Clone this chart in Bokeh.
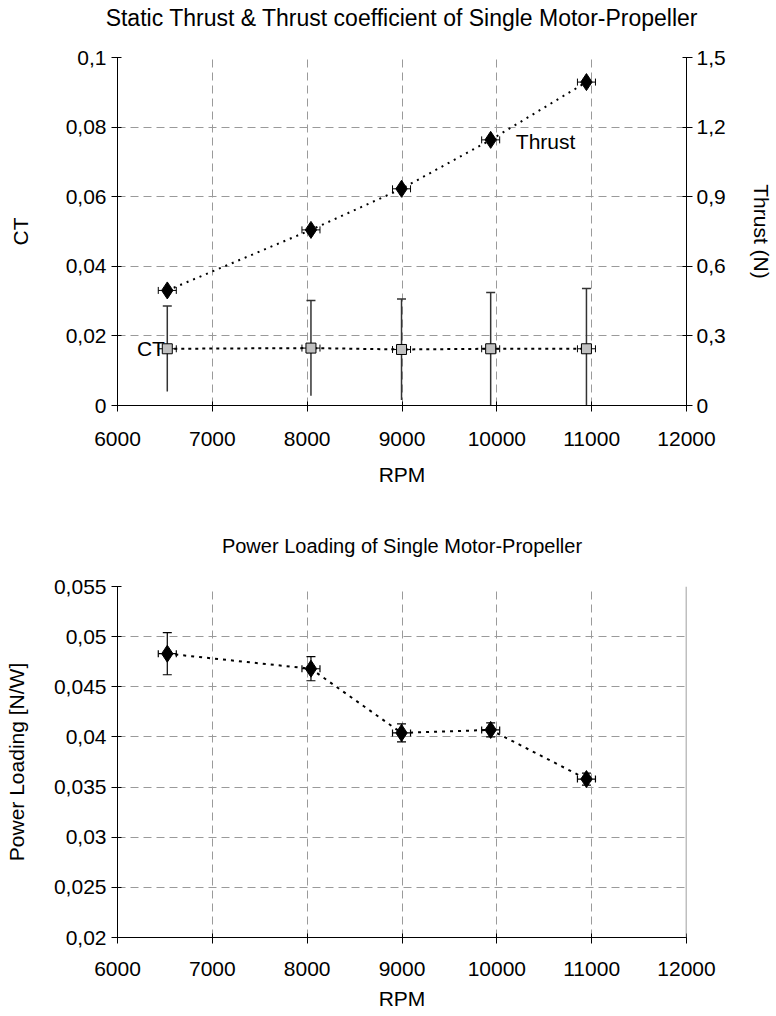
from bokeh.plotting import figure
from bokeh.layouts import column
from bokeh.models import (ColumnDataSource, Range1d, LinearAxis, FixedTicker,
                          CustomJSTickFormatter, Whisker, TeeHead, Label, Span)
from bokeh.embed import file_html
from bokeh.resources import INLINE

# ---------------- data ----------------
rpm = [6525, 8040, 8995, 9935, 10945]
rpm_err = [95, 95, 95, 95, 95]
thrust = [0.496, 0.757, 0.934, 1.145, 1.394]
ct = [0.0163, 0.0165, 0.0161, 0.0163, 0.0163]
ct_err = [0.0123, 0.0137, 0.0145, 0.0162, 0.0173]
power_loading = [0.0483, 0.0468, 0.0404, 0.0407, 0.0358]
pl_err = [0.0021, 0.0012, 0.0009, 0.0007, 0.0006]

x_ticks = [6000, 7000, 8000, 9000, 10000, 11000, 12000]
ct_ticks = [0, 0.02, 0.04, 0.06, 0.08, 0.1]
thrust_ticks = [0, 0.3, 0.6, 0.9, 1.2, 1.5]
pl_ticks = [0.02, 0.025, 0.03, 0.035, 0.04, 0.045, 0.05, 0.055]

title1 = "Static Thrust & Thrust coefficient of Single Motor-Propeller"
title2 = "Power Loading of Single Motor-Propeller"

FONT = "Liberation Sans"
FS = "21px"
comma_fmt = CustomJSTickFormatter(code="return tick.toString().replace('.', ',');")

src = ColumnDataSource(dict(
    rpm=rpm,
    lo_x=[r - e for r, e in zip(rpm, rpm_err)],
    hi_x=[r + e for r, e in zip(rpm, rpm_err)],
    thrust=thrust,
    ct=ct,
    ct_lo=[max(c - e, 0) for c, e in zip(ct, ct_err)],
    ct_hi=[c + e for c, e in zip(ct, ct_err)],
    pl=power_loading,
    pl_lo=[p - e for p, e in zip(power_loading, pl_err)],
    pl_hi=[p + e for p, e in zip(power_loading, pl_err)],
))


def style_axis(ax, fmt=True):
    ax.axis_line_color = "black"
    ax.major_tick_line_color = "black"
    ax.minor_tick_line_color = None
    ax.major_tick_in = 4
    ax.major_tick_out = 6
    ax.major_label_text_font = FONT
    ax.major_label_text_font_size = FS
    ax.major_label_text_color = "black"
    ax.axis_label_text_font = FONT
    ax.axis_label_text_font_size = FS
    ax.axis_label_text_font_style = "normal"
    ax.axis_label_text_color = "black"
    if fmt:
        ax.formatter = comma_fmt


def style_fig(p):
    p.outline_line_color = None
    for g in (p.xgrid, p.ygrid):
        g.grid_line_color = "#9a9a9a"
        g.grid_line_dash = "8 5"
        g.grid_line_width = 1
    p.background_fill_color = "white"
    p.border_fill_color = "white"


def add_title(p, text, standoff, size):
    ax = LinearAxis(ticker=FixedTicker(ticks=[]), axis_label=text)
    ax.axis_line_color = None
    ax.major_tick_line_color = None
    ax.minor_tick_line_color = None
    ax.major_tick_in = 0
    ax.major_tick_out = 0
    ax.major_label_standoff = 0
    ax.axis_label_standoff = standoff
    ax.axis_label_text_font = FONT
    ax.axis_label_text_font_size = size
    ax.axis_label_text_font_style = "normal"
    ax.axis_label_text_color = "black"
    p.add_layout(ax, "above")


# ---------------- top chart ----------------
p1 = figure(frame_width=569, frame_height=348, x_range=Range1d(6000, 12000),
            y_range=Range1d(0, 0.1), toolbar_location=None, output_backend="svg",
            min_border_left=117, min_border_right=88,
            min_border_top=57, min_border_bottom=88)
style_fig(p1)
p1.extra_y_ranges = {"thrust": Range1d(0, 1.5)}
xb1 = p1.below[0]
yl1 = p1.left[0]
xb1.ticker = FixedTicker(ticks=x_ticks)
p1.xgrid.ticker = FixedTicker(ticks=x_ticks)
yl1.ticker = FixedTicker(ticks=ct_ticks)
p1.ygrid.ticker = FixedTicker(ticks=ct_ticks)
yl1.axis_label = "CT"
xb1.axis_label = "RPM"
style_axis(yl1)
style_axis(xb1, fmt=False)
yl1.major_label_standoff = 5
yl1.axis_label_standoff = 31
xb1.major_label_standoff = 20
xb1.axis_label_standoff = 14

rax = LinearAxis(y_range_name="thrust", ticker=FixedTicker(ticks=thrust_ticks),
                 axis_label="Thrust (N)")
style_axis(rax)
rax.major_label_standoff = 4
rax.axis_label_standoff = 21
p1.add_layout(rax, "right")

# thrust series
p1.line("rpm", "thrust", source=src, y_range_name="thrust", line_color="black",
        line_width=2, line_dash="2 5")
p1.add_layout(Whisker(source=src, base="thrust", lower="lo_x", upper="hi_x",
                      dimension="width", y_range_name="thrust", line_color="black",
                      line_width=1,
                      lower_head=TeeHead(size=7, line_color="black", line_width=1),
                      upper_head=TeeHead(size=7, line_color="black", line_width=1)))
p1.scatter("rpm", "thrust", source=src, y_range_name="thrust", marker="diamond",
           size=17, fill_color="black", line_color="black")

# CT series
p1.add_layout(Whisker(source=src, base="rpm", lower="ct_lo", upper="ct_hi",
                      dimension="height", line_color="#333333", line_width=1.5,
                      lower_head=None,
                      upper_head=TeeHead(size=9, line_color="#333333", line_width=1.5)))
p1.line("rpm", "ct", source=src, line_color="black", line_width=2, line_dash="3 4")
p1.add_layout(Whisker(source=src, base="ct", lower="lo_x", upper="hi_x",
                      dimension="width", line_color="black", line_width=1,
                      lower_head=TeeHead(size=7, line_color="black", line_width=1),
                      upper_head=TeeHead(size=7, line_color="black", line_width=1)))
p1.scatter("rpm", "ct", source=src, marker="square", size=10,
           fill_color="#c0c0c0", line_color="black", line_width=1)

p1.add_layout(Label(x=6500, y=0.0163, text="CT", text_align="right",
                    text_baseline="middle", text_font=FONT, text_font_size=FS,
                    text_color="black"))
p1.add_layout(Label(x=10200, y=1.14, y_range_name="thrust", text="Thrust",
                    text_align="left", text_baseline="middle", text_font=FONT,
                    text_font_size=FS, text_color="black"))
add_title(p1, title1, 27, "23px")

# ---------------- bottom chart ----------------
p2 = figure(frame_width=569, frame_height=351, x_range=Range1d(6000, 12000),
            y_range=Range1d(0.02, 0.055), toolbar_location=None, output_backend="svg",
            min_border_left=117, min_border_right=88,
            min_border_top=93, min_border_bottom=74)
style_fig(p2)
xb2 = p2.below[0]
yl2 = p2.left[0]
xb2.ticker = FixedTicker(ticks=x_ticks)
p2.xgrid.ticker = FixedTicker(ticks=x_ticks)
yl2.ticker = FixedTicker(ticks=pl_ticks)
p2.ygrid.ticker = FixedTicker(ticks=pl_ticks)
yl2.axis_label = "Power Loading [N/W]"
xb2.axis_label = "RPM"
style_axis(yl2)
style_axis(xb2, fmt=False)
yl2.major_label_standoff = 5
yl2.axis_label_standoff = 23
xb2.major_label_standoff = 18
xb2.axis_label_standoff = 8
p2.add_layout(Span(location=12000, dimension="height", line_color="#808080",
                   line_width=1.5))

p2.line("rpm", "pl", source=src, line_color="black", line_width=2, line_dash="3 5")
p2.add_layout(Whisker(source=src, base="rpm", lower="pl_lo", upper="pl_hi",
                      dimension="height", line_color="black", line_width=1.2,
                      lower_head=TeeHead(size=9, line_color="black", line_width=1.2),
                      upper_head=TeeHead(size=9, line_color="black", line_width=1.2)))
p2.add_layout(Whisker(source=src, base="pl", lower="lo_x", upper="hi_x",
                      dimension="width", line_color="black", line_width=1.2,
                      lower_head=TeeHead(size=7, line_color="black", line_width=1.2),
                      upper_head=TeeHead(size=7, line_color="black", line_width=1.2)))
p2.scatter("rpm", "pl", source=src, marker="diamond", size=17,
           fill_color="black", line_color="black")
add_title(p2, title2, 30, "20px")

layout = column(p1, p2, spacing=0)
open("out.html", "w").write(file_html(layout, INLINE))
